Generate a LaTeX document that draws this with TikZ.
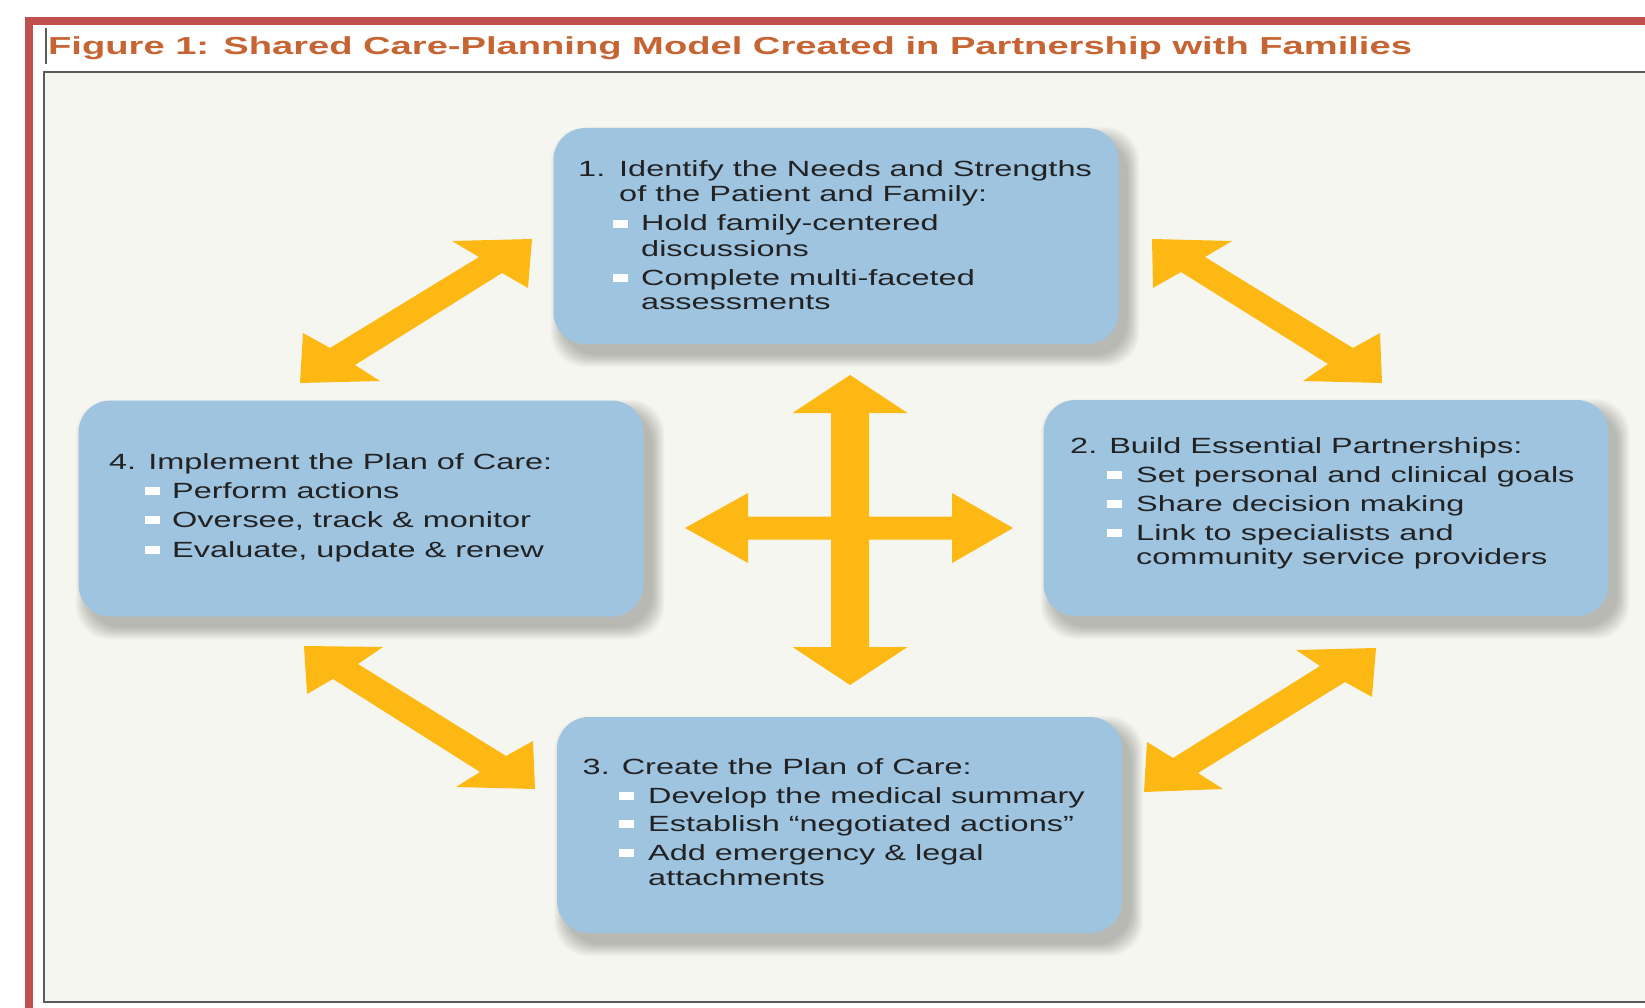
\documentclass[tikz,border=0pt]{standalone}
\usepackage{fontspec}
\setmainfont{Liberation Sans}
\newfontfamily\boxfam[FakeStretch=1.475]{Liberation Sans}
\newfontfamily\titlefam[FakeStretch=1.55]{Liberation Sans}

\definecolor{framered}{RGB}{192,80,77}
\definecolor{titleorange}{RGB}{198,100,52}
\definecolor{panelfill}{RGB}{246,246,240}
\definecolor{panelline}{RGB}{90,90,90}
\definecolor{stageblue}{RGB}{158,196,224}
\definecolor{arrowgold}{RGB}{253,184,19}
\definecolor{inktext}{RGB}{34,34,34}

\tikzset{
  stagebox/.style={rectangle, rounded corners=32pt, fill=stageblue, draw=none,
    minimum width=565pt, minimum height=216pt, inner sep=0pt},
  softshade/.style={fill=black, opacity=0.02},
  linetext/.style={anchor=base west, inner sep=0pt, text=inktext,
    font=\boxfam\fontsize{22}{26}\selectfont},
  bulletsq/.style={rectangle, fill=white, draw=none, inner sep=0pt,
    minimum width=15pt, minimum height=8pt},
  blockarrow/.style={fill=arrowgold, draw=none},
}

% one text line: name, x, baseline y, text
\newcommand\txtline[4]{\node[linetext] (#1) at (#2,#3) {#4};}
% one bullet square: name, x, y
\newcommand\bulletmark[3]{\node[bulletsq] (#1) at (#2,#3) {};}
% a stage box with its soft drop shadow: name, centre x, centre y
\newcommand\stage[3]{%
  \foreach \g in {0,1,...,12} {
    \fill[softshade, rounded corners=34pt]
      ({#2-282.5+9-\g},{#3-108+11-\g}) rectangle ({#2+282.5+9+\g},{#3+108+11+\g});
  }
  \node[stagebox] (#1) at (#2,#3) {};
}

\begin{document}
\begin{tikzpicture}[x=1pt, y=-1pt]
  \useasboundingbox (0,0) rectangle (1645,1008);
  \clip (0,0) rectangle (1645,1008);
  \fill[white] (0,0) rectangle (1645,1008);

  % red outer frame (top and left edges)
  \fill[framered] (25,17) rectangle (1645,25);
  \fill[framered] (25,17) rectangle (33,1008);

  % caption
  \draw[panelline, line width=2pt] (46,28) -- (46,64);
  \node[anchor=base west, inner sep=0pt, text=titleorange,
        font=\titlefam\bfseries\fontsize{24.6}{28}\selectfont] (title) at (48,54.3)
    {Figure 1: Shared Care-Planning Model Created in Partnership with Families};

  % figure panel
  \filldraw[fill=panelfill, draw=panelline, line width=2pt] (43.5,72) rectangle (1700,1002);

  % diagonal two-headed arrows between the stages
  \fill[blockarrow] (300,383) -- (303,333) -- (330,348) -- (479,257) -- (452,241)
    -- (532,239) -- (528,288) -- (502,273) -- (355,365) -- (380,381) -- cycle;
  \fill[blockarrow] (1152,239) -- (1232,241) -- (1205,257) -- (1353,348) -- (1380,333)
    -- (1382,383) -- (1303,381) -- (1328,364) -- (1181,272) -- (1153,288) -- cycle;
  \fill[blockarrow] (304,646) -- (383,647) -- (358,664) -- (506,756) -- (533,741)
    -- (535,789) -- (456,787) -- (480,772) -- (333,679) -- (307,694) -- cycle;
  \fill[blockarrow] (1376,648) -- (1296,650) -- (1320,666) -- (1173,758) -- (1147,742)
    -- (1144,792) -- (1223,789) -- (1198,773) -- (1345,682) -- (1372,697) -- cycle;

  % central four-way arrow
  \fill[blockarrow] (850,375) -- (907.5,413) -- (869,413) -- (869,516.5) -- (952,516.5)
    -- (952,493) -- (1013,528) -- (952,563) -- (952,539.5) -- (869,539.5) -- (869,647)
    -- (907.5,647) -- (850,685) -- (792.5,647) -- (831,647) -- (831,539.5) -- (748,539.5)
    -- (748,563) -- (685,528) -- (748,493) -- (748,516.5) -- (831,516.5) -- (831,413)
    -- (792.5,413) -- cycle;

  % stage boxes
  \stage{s1}{836}{236}
  \stage{s2}{1326}{508}
  \stage{s3}{839.5}{825}
  \stage{s4}{361}{508.5}

  % stage 1
  \txtline{s1num}{578}{177}{1.}
  \txtline{s1a}{619}{177}{Identify the Needs and Strengths}
  \txtline{s1b}{619}{202}{of the Patient and Family:}
  \bulletmark{s1m1}{620}{224}
  \txtline{s1c}{641}{231}{Hold family-centered}
  \txtline{s1d}{641}{256}{discussions}
  \bulletmark{s1m2}{620}{278}
  \txtline{s1e}{641}{285}{Complete multi-faceted}
  \txtline{s1f}{641}{309}{assessments}

  % stage 2
  \txtline{s2a}{1070}{453}{2. Build Essential Partnerships:}
  \bulletmark{s2m1}{1114.5}{475}
  \txtline{s2b}{1136}{482}{Set personal and clinical goals}
  \bulletmark{s2m2}{1114.5}{504}
  \txtline{s2c}{1136}{511}{Share decision making}
  \bulletmark{s2m3}{1114.5}{533}
  \txtline{s2d}{1136}{540}{Link to specialists and}
  \txtline{s2e}{1136}{564}{community service providers}

  % stage 3
  \txtline{s3a}{582.5}{774}{3. Create the Plan of Care:}
  \bulletmark{s3m1}{626.5}{796}
  \txtline{s3b}{648}{803}{Develop the medical summary}
  \bulletmark{s3m2}{626.5}{824}
  \txtline{s3c}{648}{831}{Establish “negotiated actions”}
  \bulletmark{s3m3}{626.5}{853}
  \txtline{s3d}{648}{860}{Add emergency \& legal}
  \txtline{s3e}{648}{885}{attachments}

  % stage 4
  \txtline{s4a}{109}{469}{4. Implement the Plan of Care:}
  \bulletmark{s4m1}{152.5}{491}
  \txtline{s4b}{172}{498}{Perform actions}
  \bulletmark{s4m2}{152.5}{520}
  \txtline{s4c}{172}{527}{Oversee, track \& monitor}
  \bulletmark{s4m3}{152.5}{550}
  \txtline{s4d}{172}{557}{Evaluate, update \& renew}
\end{tikzpicture}
\end{document}
